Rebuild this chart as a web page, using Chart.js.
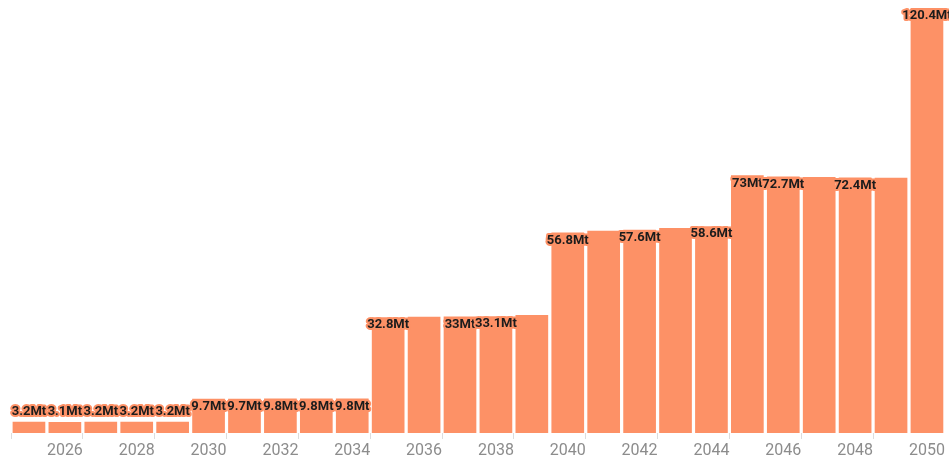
<!DOCTYPE html>
<html>
<head>
<meta charset="utf-8">
<script src="https://cdn.jsdelivr.net/npm/chart.js@4"></script>
<style>
    html, body { margin: 0; padding: 0; background: #fff; }
    #canvas-container { width: 949px; height: 459px; }
</style>
</head>
<body>
<div id="canvas-container"><canvas id="bar-chart"></canvas></div>
<script>
const years = ['2025', '2026', '2027', '2028', '2029', '2030', '2031', '2032', '2033', '2034',
    '2035', '2036', '2037', '2038', '2039', '2040', '2041', '2042', '2043', '2044',
    '2045', '2046', '2047', '2048', '2049', '2050'];
const mt_values = [3.2, 3.1, 3.2, 3.2, 3.2, 9.7, 9.7, 9.8, 9.8, 9.8,
    32.8, 32.9, 33.0, 33.1, 33.4, 56.8, 57.3, 57.6, 58.1, 58.6,
    73.0, 72.7, 72.5, 72.4, 72.3, 120.4];
const unit = 'Mt';

const bar_color = 'rgb(253, 145, 102)';

// value labels near the top of each bar, skipped when they would overlap one already drawn
const value_labels = {
    id: 'value_labels',
    afterDatasetsDraw(chart) {
        const ctx = chart.ctx;
        const meta = chart.getDatasetMeta(0);
        const drawn = [];
        ctx.save();
        ctx.font = 'bold 13px Roboto';
        ctx.textAlign = 'center';
        ctx.textBaseline = 'middle';
        ctx.lineJoin = 'round';
        meta.data.forEach((bar, i) => {
            const text = mt_values[i] + unit;
            const half = ctx.measureText(text).width / 2 - 1;
            const h = bar.base - bar.y;
            const cy = h > 20 ? bar.y + 8 : bar.y - 10;
            const box = { l: bar.x - half, r: bar.x + half, t: cy - 8, b: cy + 8 };
            const hit = drawn.some(d => box.l < d.r && box.r > d.l && box.t < d.b && box.b > d.t);
            if (hit) return;
            drawn.push(box);
            ctx.strokeStyle = bar_color;
            ctx.lineWidth = 4;
            ctx.strokeText(text, bar.x, cy);
            ctx.fillStyle = '#1c1c1c';
            ctx.fillText(text, bar.x, cy);
        });
        ctx.restore();
    }
};

const chart = new Chart(document.getElementById('bar-chart'), {
    type: 'bar',
    data: {
        labels: years,
        datasets: [{
            data: mt_values,
            backgroundColor: bar_color,
            barPercentage: 0.91,
            categoryPercentage: 1
        }]
    },
    options: {
        responsive: true,
        maintainAspectRatio: false,
        animation: false,
        plugins: {
            legend: { display: false },
            tooltip: { enabled: false }
        },
        scales: {
            x: {
                border: { display: false },
                grid: {
                    drawOnChartArea: false,
                    drawTicks: true,
                    tickLength: 6,
                    // tick marks only under the unlabelled years
                    color: c => (c.index % 2 === 0 ? '#dddddd' : 'rgba(0,0,0,0)')
                },
                ticks: {
                    autoSkip: false,
                    maxRotation: 0,
                    padding: 4,
                    color: '#8c8c8c',
                    font: { family: 'Roboto', size: 16, lineHeight: 1 },
                    callback: function (value, index) {
                        return index % 2 === 1 ? years[index] : '';
                    }
                }
            },
            y: {
                display: false,
                min: 0,
                max: Math.max(...mt_values)
            }
        },
        layout: {
            padding: { left: 11, right: 3, top: 8, bottom: -4 }
        }
    },
    plugins: [value_labels]
});
</script>
</body>
</html>
